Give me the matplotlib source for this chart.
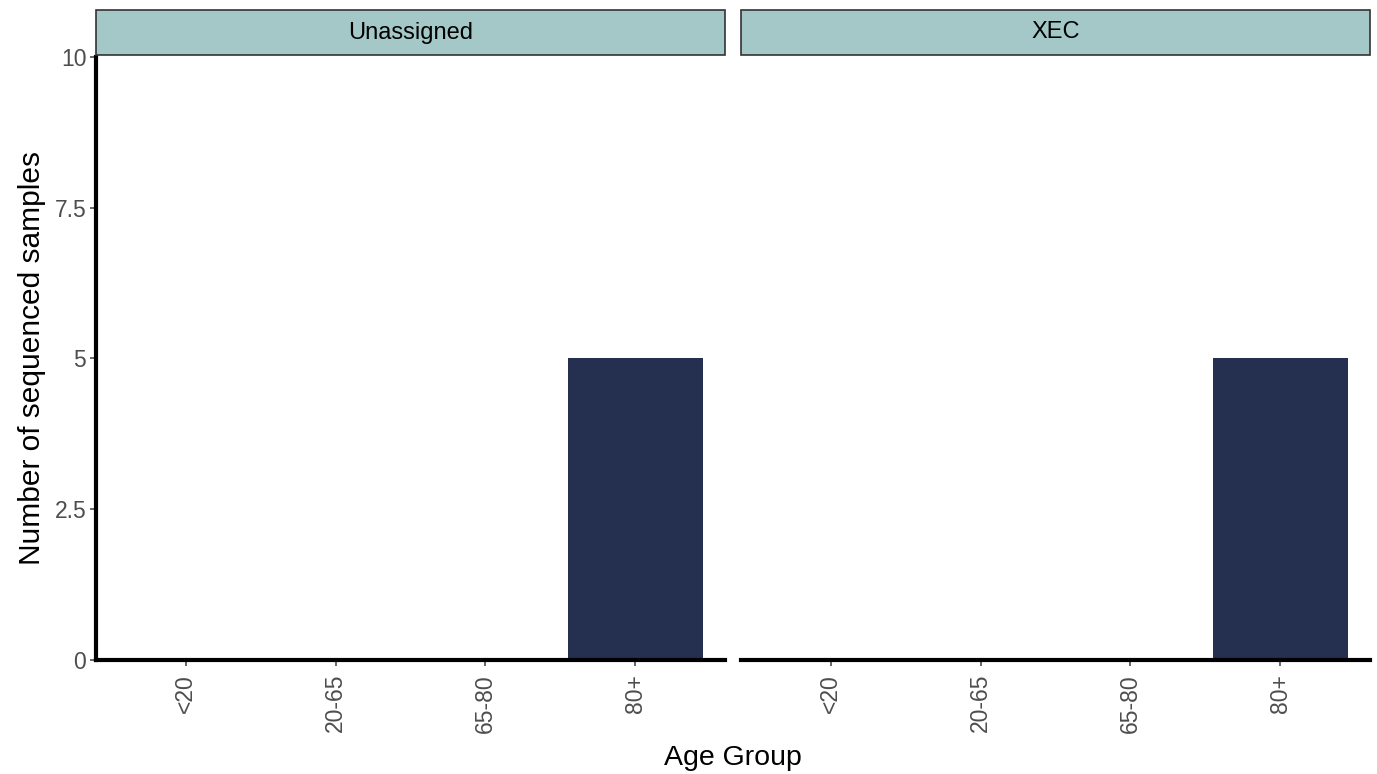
import matplotlib
matplotlib.use("Agg")
import matplotlib.pyplot as plt
from matplotlib.patches import Rectangle

categories = ['<20', '20-65', '65-80', '80+']
panels = ['Unassigned', 'XEC']
unassigned_counts = [0, 0, 0, 5]
xec_counts = [0, 0, 0, 5]
y_ticks = [0, 2.5, 5, 7.5, 10]
y_tick_labels = ['0', '2.5', '5', '7.5', '10']

plt.rcParams['font.family'] = ['Liberation Sans', 'DejaVu Sans']

W, H = 1377, 774
fig = plt.figure(figsize=(W / 100, H / 100), dpi=100)

bar_color = '#252F50'
strip_color = '#A3C8C7'
tick_color = '#4D4D4D'

panel_px = [(96, 725), (741, 1370)]
top_px, bot_px = 57, 660
strip_top_px = 10

series = [unassigned_counts, xec_counts]
for i, (name, vals) in enumerate(zip(panels, series)):
    x0, x1 = panel_px[i]
    ax = fig.add_axes([x0 / W, 1 - bot_px / H, (x1 - x0) / W, (bot_px - top_px) / H])
    xs = list(range(len(categories)))
    ax.bar(xs, vals, width=0.9, color=bar_color, edgecolor='none', zorder=2)
    ax.set_xlim(-0.6, len(categories) - 0.4)
    ax.set_ylim(0, 10)
    ax.set_xticks(xs)
    ax.set_xticklabels(categories, rotation=90, fontsize=16.5, color=tick_color)
    ax.set_yticks(y_ticks)
    for s in ['top', 'right']:
        ax.spines[s].set_visible(False)
    ax.spines['bottom'].set_linewidth(3)
    ax.spines['bottom'].set_color('black')
    if i == 0:
        ax.set_yticklabels(y_tick_labels, fontsize=16.5, color=tick_color)
        ax.spines['left'].set_linewidth(3)
        ax.spines['left'].set_color('black')
        ax.set_ylabel('Number of sequenced samples', fontsize=21.5, color='black', labelpad=6)
    else:
        ax.spines['left'].set_visible(False)
        ax.tick_params(axis='y', left=False, labelleft=False)
    ax.tick_params(axis='both', colors=tick_color, length=4, width=1.2, pad=3)
    ax.tick_params(axis='x', labelcolor=tick_color, pad=6)
    ax.tick_params(axis='y', labelcolor=tick_color)

    # strip
    sax = fig.add_axes([x0 / W, 1 - (top_px - 2) / H, (x1 - x0) / W, (top_px - 2 - strip_top_px) / H])
    sax.set_xlim(0, 1)
    sax.set_ylim(0, 1)
    sax.axis('off')
    sax.add_patch(Rectangle((0, 0), 1, 1, facecolor=strip_color, edgecolor='#333333',
                            linewidth=1.2, transform=sax.transAxes, clip_on=False))
    sax.text(0.5, 0.5, name, ha='center', va='center', fontsize=17, color='black')

fig.text((96 + 1370) / 2 / W, 1 - 758 / H, 'Age Group', ha='center', va='center', fontsize=20.5)

fig.savefig('out.png', dpi=100, facecolor='white')
